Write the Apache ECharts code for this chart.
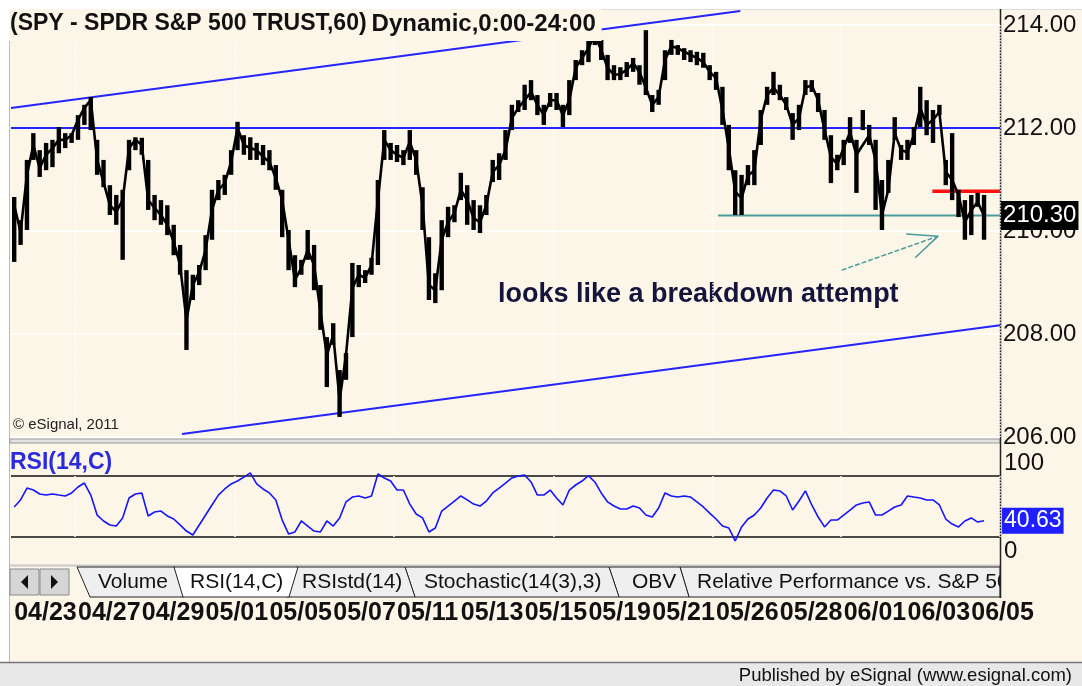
<!DOCTYPE html>
<html>
<head>
<meta charset="utf-8">
<title>SPY 60</title>
<script src="https://cdn.jsdelivr.net/npm/echarts@6.0.0/dist/echarts.min.js"></script>
<style>
  html, body { margin: 0; padding: 0; background: #fff; }
  #main { width: 1082px; height: 686px; }
</style>
</head>
<body>
<div id="main"></div>
<script type="text/javascript">
// trading days shown, 5 bars per day
var days = ['04/23','04/24','04/27','04/28','04/29','04/30','05/01','05/04','05/05','05/06','05/07','05/08',
            '05/11','05/12','05/13','05/14','05/15','05/18','05/19','05/20','05/21','05/22','05/26','05/27',
            '05/28','05/29','06/01','06/02','06/03','06/04','06/05'];
var weekStarts = ['04/27','05/04','05/11','05/18','05/26','06/01'];
var barsPerDay = 5;

// SPY 60 min closes
var price = [
  210.50,209.98,211.09,211.67,211.22, 211.48,211.61,211.77,211.77,211.86,
  212.16,212.39,212.54,211.38,210.95, 210.50,210.37,210.60,211.61,211.77,
  211.67,210.60,210.45,210.31,210.12, 209.79,209.34,208.27,208.95,209.20,
  209.63,210.41,210.80,210.93,211.34, 212.00,211.67,211.61,211.57,211.44,
  211.34,211.03,210.60,209.83,209.05, 209.28,209.63,209.34,208.43,207.59,
  207.98,206.72,207.59,208.89,209.15, 209.09,209.34,210.60,211.77,211.57,
  211.48,211.42,211.73,211.38,210.50, 208.95,208.85,209.83,210.17,210.35,
  210.80,210.60,210.25,210.17,210.50, 211.15,211.28,211.57,212.19,212.39,
  212.54,212.70,212.45,212.25,212.54, 212.54,212.25,212.54,213.17,213.36,
  213.55,213.81,213.51,213.17,213.03, 213.05,213.13,213.26,213.09,212.78,
  212.45,212.60,213.32,213.59,213.55, 213.48,213.42,213.36,213.28,213.09,
  212.97,212.35,211.61,210.76,210.64, 211.07,211.18,212.16,212.64,212.78,
  212.64,212.45,212.06,212.19,212.78, 212.83,212.54,211.96,211.44,211.30,
  211.61,211.92,211.48,211.67,211.86, 211.38,210.31,210.80,211.90,211.57,
  211.53,211.86,212.39,212.06,212.16, 212.31,211.15,210.99,210.70,210.17,
  210.41,210.56,210.30,null,null
];
var highs = [
  210.66,210.21,211.38,211.90,211.57, 211.71,211.77,212.02,211.90,211.90,
  212.25,212.45,212.60,211.77,211.38, 210.89,210.70,210.80,211.77,211.82,
  211.81,211.38,210.70,210.60,210.50, 210.12,209.73,209.24,209.15,209.34,
  209.92,210.80,210.99,211.09,211.57, 212.12,211.86,211.82,211.71,211.67,
  211.57,211.28,210.80,210.02,209.53, 209.44,210.02,209.73,208.95,207.94,
  208.21,207.30,207.63,209.38,209.34, 209.24,209.48,210.99,211.96,211.71,
  211.67,211.57,211.96,211.57,210.85, 209.88,209.18,210.21,210.47,210.50,
  211.13,210.89,210.60,210.50,210.70, 211.38,211.51,211.96,212.45,212.54,
  212.84,212.93,212.64,212.45,212.68, 212.68,212.45,212.93,213.32,213.51,
  213.71,213.96,213.71,213.42,213.22, 213.18,213.28,213.36,213.22,213.90,
  212.64,212.74,213.51,213.71,213.61, 213.55,213.51,213.48,213.46,213.22,
  213.09,212.80,212.06,211.18,211.09, 211.28,211.57,212.35,212.80,213.09,
  212.84,212.60,212.29,212.45,212.93, 212.93,212.68,212.35,211.86,211.48,
  211.77,212.21,211.77,212.35,212.06, 211.77,210.99,211.38,212.21,211.67,
  211.77,212.02,212.80,212.54,212.35, 212.45,211.38,211.90,210.80,210.60,
  210.70,210.74,210.70,null,null
];
var lows = [
  209.40,209.73,210.02,211.38,211.05, 211.18,211.24,211.51,211.61,211.71,
  211.77,212.06,211.96,211.09,210.85, 210.31,210.12,209.44,211.18,211.57,
  211.48,210.41,210.21,210.12,209.92, 209.53,209.15,207.69,208.66,208.95,
  209.24,209.83,210.60,210.70,211.09, 211.57,211.48,211.38,211.38,211.28,
  211.18,210.80,209.88,209.24,208.91, 209.15,209.44,208.85,208.08,206.97,
  207.79,206.39,207.11,207.94,208.91, 208.99,209.15,209.34,211.38,211.38,
  211.34,211.28,211.38,211.09,210.02, 208.66,208.60,208.85,209.88,210.17,
  210.60,210.12,210.02,209.96,210.31, 210.95,210.99,211.38,211.96,212.31,
  212.35,212.54,212.25,212.06,212.41, 212.35,212.02,212.25,212.93,213.22,
  213.28,213.61,213.32,212.93,212.93, 212.93,212.99,213.09,212.84,212.64,
  212.31,212.45,212.93,213.42,213.42, 213.32,213.28,213.22,213.17,212.93,
  212.74,212.06,211.18,210.31,210.31, 210.89,210.89,211.67,212.45,212.64,
  212.54,212.35,211.77,211.96,212.64, 212.70,212.31,211.77,210.93,211.18,
  211.28,211.71,210.74,211.96,211.67, 210.41,210.02,210.74,211.77,211.38,
  211.38,211.67,212.02,211.86,211.71, 212.25,210.89,210.60,210.27,209.83,
  209.92,210.47,209.83,null,null
];

// RSI(14,C)
var rsi = [
  49.7,54.3,62.1,60.8,58.2, 57.5,58.2,57.5,56.9,58.9,
  62.8,65.4,57.5,44.4,40.5, 37.9,37.2,42.5,55.6,58.2,
  58.9,43.8,46.4,47.0,43.8, 41.8,37.9,33.9,31.3,37.9,
  44.4,51.0,57.5,61.5,64.8, 66.7,69.3,72.0,64.8,61.5,
  58.9,54.3,41.1,32.0,33.3, 40.5,37.2,33.9,33.3,40.5,
  37.2,42.5,53.0,56.2,56.9, 55.6,56.9,71.3,68.7,66.7,
  60.8,60.8,51.6,45.1,42.5, 33.3,35.9,47.0,50.3,53.6,
  56.9,54.3,51.6,50.3,53.6, 58.9,62.1,65.4,68.7,70.0,
  70.7,66.1,57.5,57.5,60.8, 55.6,51.0,60.8,64.1,66.7,
  70.2,66.1,58.9,53.0,50.3, 48.4,48.4,50.3,49.0,44.4,
  43.1,49.0,58.9,56.9,56.2, 56.9,56.2,53.0,49.7,45.7,
  41.8,37.2,35.9,27.4,36.6, 41.8,44.4,49.0,55.6,60.8,
  60.2,56.9,47.7,53.6,60.2, 51.0,43.1,36.6,41.1,41.1,
  44.4,47.7,51.0,52.3,53.0, 44.4,44.4,47.0,49.7,51.0,
  56.9,56.2,55.6,54.3,54.3, 51.0,41.8,38.5,36.6,40.5,
  42.5,39.8,40.63,null,null
];

// drawn studies, [bar index, price]
var upperChannel = [[-0.5, 212.39], [113.8, 214.27]];
var lowerChannel = [[26.3, 206.06], [154.5, 208.17]];
var resistance = [[-0.5, 212.00], [154.5, 212.00]];
var support = [[110.3, 210.30], [154.5, 210.30]];
var redLevel = [[143.9, 210.77], [154.5, 210.77]];
var arrowShaft = [[129.7, 209.24], [144.8, 209.90]];
var arrowHead = [[139.8, 209.94], [144.8, 209.90], [141.2, 209.48]];

var priceTicks = [206, 214, 2];
var rsiLevels = [30, 70];

var cats = [];
days.forEach(function (d) {
  for (var k = 0; k < barsPerDay; k++) cats.push(d + ' ' + k);
});
var ranges = [];
for (var i = 0; i < cats.length; i++) {
  if (highs[i] != null) ranges.push([i, lows[i], highs[i]]);
}

var cream = '#fcf6e9';
var font = 'Liberation Sans, Arial, sans-serif';
var blue = '#2424ff';
var teal = '#4a9c9c';

var myChart = echarts.init(document.getElementById('main'));

function seg(data, color, width, type, z) {
  return {
    type: 'line', xAxisIndex: 2, yAxisIndex: 0, data: data, showSymbol: false, silent: true,
    clip: false, z: z || 3, animation: false,
    lineStyle: { color: color, width: width, type: type || 'solid' }
  };
}

var tabY0 = 567, tabY1 = 597;
function tab(pts, fill) {
  return { type: 'polygon', shape: { points: pts }, style: { fill: fill, stroke: '#222', lineWidth: 1 } };
}
function txt(x, y, s, f, color, align) {
  return { type: 'text', style: { x: x, y: y, text: s, font: f, fill: color, align: align || 'left', verticalAlign: 'middle' } };
}
function weekLine(i) {
  return i % barsPerDay === 0 && weekStarts.indexOf(days[i / barsPerDay]) >= 0;
}

var option = {
  backgroundColor: cream,
  animation: false,
  title: {
    text: '{b|(SPY - SPDR S&P 500 TRUST,60)} {n|Dynamic,0:00-24:00}',
    left: 9, top: 9,
    padding: [3, 6, 5, 1],
    backgroundColor: cream,
    textStyle: {
      rich: {
        b: { fontSize: 23, fontWeight: 'bold', color: '#111', fontFamily: font },
        n: { fontSize: 24, color: '#111', fontFamily: font }
      }
    }
  },
  grid: [
    { left: 11, right: 82, top: 25, bottom: 249 },
    { left: 11, right: 82, top: 476, bottom: 149 }
  ],
  xAxis: [
    {
      type: 'category', gridIndex: 0, data: cats, boundaryGap: true,
      axisLine: { show: false }, axisTick: { show: false }, axisLabel: { show: false },
      splitLine: { show: true, interval: weekLine, lineStyle: { color: '#ffffff', type: 'dotted', width: 1.5 } }
    },
    {
      type: 'category', gridIndex: 1, data: cats, boundaryGap: true,
      axisLine: { show: false }, axisTick: { show: false },
      splitLine: { show: true, interval: weekLine, lineStyle: { color: '#ffffff', type: 'dotted', width: 1.5 } },
      axisLabel: {
        interval: function (i) { return i % (barsPerDay * 2) === 0; },
        formatter: function (v) { return v.split(' ')[0]; },
        align: 'left', margin: 64,
        fontSize: 25, fontWeight: 'bold', color: '#111', fontFamily: font
      }
    },
    { type: 'value', gridIndex: 0, min: -0.5, max: cats.length - 0.5, show: false }
  ],
  yAxis: [
    {
      type: 'value', gridIndex: 0, position: 'right',
      min: priceTicks[0], max: priceTicks[1], interval: priceTicks[2],
      axisLine: { show: false }, axisTick: { show: false },
      axisLabel: { margin: 3, fontSize: 24, color: '#111', fontFamily: font,
                   formatter: function (v) { return v.toFixed(2); } },
      splitLine: { show: true, lineStyle: { color: '#ffffff', width: 1.5 } }
    },
    {
      type: 'value', gridIndex: 1, position: 'right',
      min: rsiLevels[0], max: rsiLevels[1], interval: rsiLevels[1] - rsiLevels[0],
      axisLine: { show: false }, axisTick: { show: false }, axisLabel: { show: false },
      splitLine: { show: true, lineStyle: { color: '#111', width: 1.5 } }
    }
  ],
  series: [
    seg(resistance, blue, 2),
    seg(upperChannel, blue, 2),
    seg(lowerChannel, blue, 2),
    seg(support, teal, 2),
    seg(redLevel, '#ff1010', 3.5),
    seg(arrowShaft, teal, 1.5, [5, 2]),
    seg(arrowHead, teal, 1.5),
    {
      name: 'SPY range', type: 'custom', xAxisIndex: 0, yAxisIndex: 0, data: ranges, z: 4,
      encode: { x: 0, y: [1, 2] },
      renderItem: function (params, api) {
        var lo = api.coord([api.value(0), api.value(1)]);
        var hi = api.coord([api.value(0), api.value(2)]);
        return { type: 'rect', shape: { x: lo[0] - 2.2, y: hi[1], width: 4.4, height: Math.max(lo[1] - hi[1], 2) },
                 style: { fill: '#000' } };
      }
    },
    {
      name: 'SPY', type: 'line', xAxisIndex: 0, yAxisIndex: 0, data: price,
      showSymbol: false, z: 5,
      lineStyle: { color: '#000', width: 2.6 },
      endLabel: {
        show: true, distance: 17,
        formatter: function (p) { return p.value.toFixed(2); },
        backgroundColor: '#000', color: '#fff', fontSize: 24, fontFamily: font,
        padding: [3, 2, 2, 2]
      }
    },
    {
      name: 'RSI', type: 'line', xAxisIndex: 1, yAxisIndex: 1, data: rsi,
      showSymbol: false, clip: false, z: 4,
      lineStyle: { color: '#1414ff', width: 1.6 },
      endLabel: {
        show: true, distance: 18,
        formatter: function (p) { return p.value.toFixed(2); },
        backgroundColor: '#1e1eff', color: '#fff', fontSize: 23, fontFamily: font,
        padding: [2, 2, 1, 2]
      }
    }
  ],
  graphic: [
    { type: 'rect', shape: { x: 0, y: 0, width: 1082, height: 9 }, style: { fill: '#fff' } },
    { type: 'rect', shape: { x: 0, y: 0, width: 9, height: 686 }, style: { fill: '#fff' } },
    { type: 'line', shape: { x1: 9.5, y1: 9, x2: 9.5, y2: 662 }, style: { stroke: '#bbb', lineWidth: 1 } },
    { type: 'line', shape: { x1: 9, y1: 9.5, x2: 1082, y2: 9.5 }, style: { stroke: '#ddd', lineWidth: 1 } },
    // panel separator
    { type: 'rect', shape: { x: 10, y: 439, width: 990, height: 4 }, style: { fill: '#e2e2e2', stroke: '#9a9a9a', lineWidth: 1 } },
    { type: 'line', shape: { x1: 10, y1: 565.5, x2: 1000, y2: 565.5 }, style: { stroke: '#c8c8c8', lineWidth: 2 } },
    // value axis line
    { type: 'line', shape: { x1: 1000.5, y1: 9, x2: 1000.5, y2: 598 }, style: { stroke: '#222', lineWidth: 1.5 } },
    // tabs
    tab([[680, tabY0], [1000, tabY0], [1000, tabY1], [689, tabY1]], '#efefef'),
    tab([[609, tabY0], [680, tabY0], [689, tabY1], [619, tabY1]], '#efefef'),
    tab([[405, tabY0], [609, tabY0], [619, tabY1], [415, tabY1]], '#efefef'),
    tab([[296, tabY0], [405, tabY0], [415, tabY1], [287, tabY1]], '#efefef'),
    tab([[77, tabY0], [175, tabY0], [184, tabY1], [90, tabY1]], '#efefef'),
    tab([[174, tabY0], [298, tabY0], [289, tabY1], [183, tabY1]], '#ffffff'),
    txt(98, 582, 'Volume', '21px ' + font, '#111'),
    txt(190, 582, 'RSI(14,C)', '21px ' + font, '#111'),
    txt(302, 582, 'RSIstd(14)', '21px ' + font, '#111'),
    txt(424, 582, 'Stochastic(14(3),3)', '21px ' + font, '#111'),
    txt(632, 582, 'OBV', '21px ' + font, '#111'),
    txt(697, 582, 'Relative Performance vs. S&P 500', '21px ' + font, '#111'),
    { type: 'rect', shape: { x: 1001, y: 566, width: 81, height: 33 }, style: { fill: cream } },
    { type: 'line', shape: { x1: 1000.5, y1: 566, x2: 1000.5, y2: 598 }, style: { stroke: '#222', lineWidth: 1.5 } },
    // scroll buttons
    { type: 'rect', shape: { x: 10, y: 569, width: 29, height: 26 }, style: { fill: '#d6d6d6', stroke: '#8a8a8a', lineWidth: 1 } },
    { type: 'rect', shape: { x: 40, y: 569, width: 29, height: 26 }, style: { fill: '#d6d6d6', stroke: '#8a8a8a', lineWidth: 1 } },
    { type: 'polygon', shape: { points: [[21, 582], [28, 575], [28, 589]] }, style: { fill: '#111' } },
    { type: 'polygon', shape: { points: [[58, 582], [51, 575], [51, 589]] }, style: { fill: '#111' } },
    // footer
    { type: 'rect', shape: { x: 0, y: 663, width: 1082, height: 23 }, style: { fill: '#e8e8e8' } },
    { type: 'line', shape: { x1: 0, y1: 662.5, x2: 1082, y2: 662.5 }, style: { stroke: '#777', lineWidth: 1.5 } },
    txt(1072, 676, 'Published by eSignal (www.esignal.com)', '18.5px ' + font, '#111', 'right'),
    // texts in panels
    txt(498, 295, 'looks like a breakdown attempt', 'bold 27px ' + font, '#14143c'),
    txt(13, 425, '\u00a9 eSignal, 2011', '15px ' + font, '#222'),
    txt(10, 463, 'RSI(14,C)', 'bold 23px ' + font, '#2a2ae0'),
    txt(1004, 463, '100', '24px ' + font, '#111'),
    txt(1004, 551, '0', '24px ' + font, '#111')
  ]
};

myChart.setOption(option);
</script>
</body>
</html>
